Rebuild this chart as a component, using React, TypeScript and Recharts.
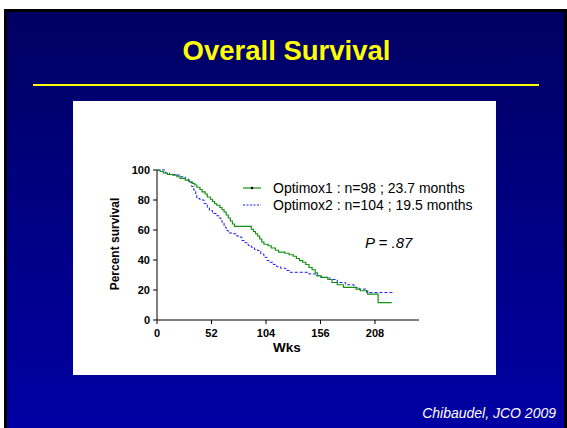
import React from 'react'
import { LineChart, Line, XAxis, YAxis } from 'recharts'

// Kaplan-Meier steps (weeks, % alive)
const optimox1Weeks = [0, 3, 6, 10, 15, 19, 22, 27, 31, 34, 36, 38, 41, 43, 46, 48, 51, 53, 55, 57, 60, 62, 64, 66, 68, 70, 72, 74, 90, 92, 94, 96, 98, 100, 102, 106, 109, 113, 116, 122, 126, 130, 133, 136, 139, 142, 145, 148, 151, 153, 157, 163, 167, 172, 178, 190, 194, 201, 211, 224]
const optimox1Pct = [100, 99, 98, 97, 96.6, 95.5, 94.4, 93.3, 92, 91, 90, 88.5, 87, 85.4, 84, 82, 80.5, 79, 77.5, 76.5, 75, 73.5, 72, 70, 68, 66, 64, 62.4, 60.5, 59, 57.5, 56, 54, 52, 50.5, 49.5, 48, 46.5, 45.3, 44.5, 43.5, 42.5, 41, 39.6, 38.5, 37, 35, 33.5, 31.5, 29.5, 28.4, 27, 25, 23.5, 21.7, 20.6, 19.5, 17.2, 11.6, 11.6]

const optimox2Weeks = [0, 8, 12, 19, 23, 27, 30, 33, 35, 37, 38, 41, 45, 48, 50, 53, 57, 60, 62, 64, 66, 68, 72, 76, 79, 81, 84, 87, 90, 93, 96, 99, 102, 105, 107, 111, 114, 118, 123, 127, 145, 152, 156, 165, 172, 180, 188, 193, 200, 226]
const optimox2Pct = [100, 98, 97, 96.6, 95.5, 94, 92, 89, 86.6, 84, 81, 80, 77.6, 75, 73, 71, 69.5, 67.6, 65, 62, 59.7, 58, 57.5, 56, 55.3, 53, 51.5, 49.7, 48.5, 47, 46.3, 44, 41.8, 39.6, 38.5, 37, 35.6, 34.5, 33, 31.8, 30.7, 29.5, 28.4, 27, 25, 23.5, 21.7, 20.6, 18.3, 18.3]

const xTicks = [0, 52, 104, 156, 208]
const yTicks = [0, 20, 40, 60, 80, 100]

const legendLabels = ['Optimox1 : n=98 ; 23.7 months', 'Optimox2 : n=104 ; 19.5 months']

const optimox1 = optimox1Weeks.map((wk, i) => ({ wk, pct: optimox1Pct[i] }))
const optimox2 = optimox2Weeks.map((wk, i) => ({ wk, pct: optimox2Pct[i] }))

const font = '"Liberation Sans", Arial, sans-serif'
const GREEN = '#139113'
const BLUE = '#1a1aff'

export default function App() {
  return (
    <div
      style={{
        position: 'fixed',
        left: 0,
        top: 0,
        width: 567,
        height: 428,
        background: '#fff',
        fontFamily: font,
        overflow: 'hidden',
      }}
    >
      <div
        style={{
          position: 'absolute',
          left: 4,
          top: 9,
          width: 557,
          height: 430,
          borderTop: '3px solid #000',
          borderLeft: '3px solid #000',
          borderRight: '3px solid #000',
          background: 'linear-gradient(#000062, #0000a6)',
        }}
      />
      <div
        style={{
          position: 'absolute',
          left: 0,
          width: 567,
          top: 34,
          textAlign: 'center',
          color: '#ffff00',
          fontWeight: 'bold',
          fontSize: 27.5,
          lineHeight: '34px',
          paddingLeft: 6,
          boxSizing: 'border-box',
        }}
      >
        Overall Survival
      </div>
      <div style={{ position: 'absolute', left: 33, top: 84, width: 506, height: 2, background: '#ffff00' }} />

      <div style={{ position: 'absolute', left: 73, top: 101, width: 423, height: 274, background: '#fff' }}>
        <LineChart width={423} height={274} margin={{ top: 69, right: 77, bottom: 25, left: 44 }}>
          <XAxis
            type="number"
            dataKey="wk"
            domain={[0, 250]}
            ticks={xTicks}
            height={30}
            tickSize={4}
            tickMargin={5}
            stroke="#000"
            tick={{ fill: '#000', fontSize: 11, fontWeight: 'bold', fontFamily: font }}
          />
          <YAxis
            type="number"
            domain={[0, 100]}
            ticks={yTicks}
            width={40}
            tickSize={4}
            tickMargin={3}
            stroke="#000"
            tick={{ fill: '#000', fontSize: 11, fontWeight: 'bold', fontFamily: font }}
          />
          <Line
            data={optimox2}
            dataKey="pct"
            type="stepAfter"
            stroke={BLUE}
            strokeWidth={1}
            strokeDasharray="3 2"
            dot={false}
            isAnimationActive={false}
          />
          <Line
            data={optimox1}
            dataKey="pct"
            type="stepAfter"
            stroke={GREEN}
            strokeWidth={1.2}
            dot={false}
            isAnimationActive={false}
          />
        </LineChart>

        {/* axis titles */}
        <div
          style={{
            position: 'absolute',
            left: 42,
            top: 143,
            transform: 'translate(-50%, -50%) rotate(-90deg)',
            fontSize: 12,
            fontWeight: 'bold',
            whiteSpace: 'nowrap',
            color: '#000',
          }}
        >
          Percent survival
        </div>
        <div
          style={{
            position: 'absolute',
            left: 200,
            top: 239,
            fontSize: 13.5,
            fontWeight: 'bold',
            color: '#000',
          }}
        >
          Wks
        </div>

        {/* legend */}
        <svg style={{ position: 'absolute', left: 168, top: 80 }} width={24} height={30}>
          <line x1={2} y1={7} x2={20} y2={7} stroke={GREEN} strokeWidth={1.2} />
          <circle cx={11} cy={7} r={1.3} fill="#000" />
          <line x1={2} y1={24} x2={20} y2={24} stroke={BLUE} strokeWidth={1} strokeDasharray="2 1.5" />
        </svg>
        {legendLabels.map((t, i) => (
          <div
            key={t}
            style={{
              position: 'absolute',
              left: 200,
              top: 79 + i * 17,
              fontSize: 14,
              lineHeight: '16px',
              color: '#000',
              whiteSpace: 'nowrap',
            }}
          >
            {t}
          </div>
        ))}

        <div
          style={{
            position: 'absolute',
            left: 292,
            top: 133,
            fontSize: 15,
            fontStyle: 'italic',
            color: '#000',
            whiteSpace: 'nowrap',
          }}
        >
          P = .87
        </div>
      </div>

      <div
        style={{
          position: 'absolute',
          right: 11,
          top: 405,
          fontSize: 14,
          fontStyle: 'italic',
          color: '#fff',
          whiteSpace: 'nowrap',
        }}
      >
        Chibaudel, JCO 2009
      </div>
    </div>
  )
}
